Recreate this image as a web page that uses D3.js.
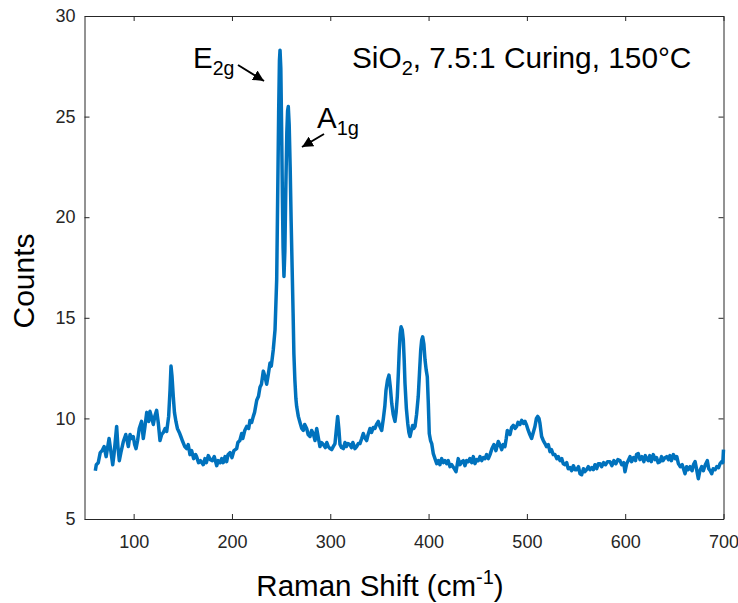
<!DOCTYPE html>
<html>
<head>
<meta charset="utf-8">
<script src="https://cdn.jsdelivr.net/npm/d3@7"></script>
<style>
  body { margin: 0; background: #fff; }
  text { font-family: "Liberation Sans", Arial, sans-serif; }
</style>
</head>
<body>
<div id="chart"></div>
<script>
// Raman shift (cm-1) and counts
const ramanShift = [
  61,62,64,66,68,70,72,74,75,77,78.7,80,82.7,84,85.4,87,89.5,92,94.6,96.3,98,99.6,101,102.4,104,105.7,108,109.8,111.5,113.3,
  115.3,116.6,118,120,121.5,123.4,125,126.8,128.5,130.2,132,133.6,135.6,137,138,139,140.3,141.5,143,144.5,146.4,148,149.9,152,153.9,155.5,157.3,159,161,163,
  164,166,168,170.8,172.5,174,175.9,178,180,182,184.5,186,188,189.6,191,193,194.6,196,198,200,202,204.8,206,208,209.9,211,213,215,217,218.3,
  220,221.7,223,225.2,227,228.5,230,231.9,233.5,235.3,237,238.7,240,242,243.8,245.5,246.5,247.5,248.3,248.9,249.7,250.5,251.3,252,252.9,253.8,254.8,255.8,256.6,257.3,
  258.2,259.2,260.2,261.2,262.2,263,264,265,265.8,267.5,269.2,271,272.6,274,276,277.5,279.4,281,282.7,284.5,286.2,288,289.5,291,292.9,295,296.5,298,299.8,301.4,
  303,304.8,306.3,307.5,308.7,309.9,311.5,313.3,315,316.5,318,320,321.5,323,325.1,326.8,328.5,330.2,332,333.6,335,337,338.5,340.4,342,343.8,345.5,347,348.9,350.5,
  352.3,354,355.5,356.7,358.2,359.7,361,362.5,364,365.8,367,368.2,369.3,370.2,371.1,372,373.2,374.3,375.2,376,377.4,378.8,380,381.1,382.5,383.8,385,386.2,387.8,389.5,
  390.8,392,393,394,395.2,396.4,397.6,398.7,399.7,400.7,402,403.2,404.8,406.5,408.3,410,411.5,413.3,415,416.7,418.4,420,421.8,423.5,425.5,427.9,430.2,432,433.7,435.3,
  437,438.7,440.4,442,443.8,445.5,447.2,449,450.6,452.3,454,455.7,457.4,459,460.8,462.5,464.5,466.5,468.5,470.9,472.5,474.4,476,477.7,479,480.1,481.5,482.8,484.5,486.2,
  488,489.6,491,493,494.7,496.5,498.1,499.8,501.4,503,504.8,506.5,508.2,509.7,511,512.3,513.3,515,516.7,518.4,520,521.8,523.5,525,526.8,528.6,530.5,532,533.7,535.5,
  537,538.8,540.5,542,543.9,545.5,547.3,549,550.7,552.5,554,555.7,557.5,559,560.8,562.5,564.2,566,567.6,569.3,571,572.7,574.4,576,578,580,582,584.5,586.5,588.5,
  590.5,592.5,594.7,596.5,598.5,599.8,601.5,603,604.9,606.5,608.5,610.5,611.5,613.3,615,617,619,620.5,621.9,623.5,625,626.5,628.6,630.5,632,633.5,635.4,637,638.5,640.5,
  642.2,644,645.5,647,649,651,652.5,654.1,656,658,660.9,662.5,664,666,668,669.5,671.1,672.5,674.4,676,677.8,679.5,681.5,683.5,685,686.5,688,689.5,691.5,693.1,
  695,696.5,698.2,699.3,700
];
const counts = [
  7.4,7.7,7.8,8.3,8.4,8.6,8.1,8.7,9.0,8.3,7.7,8.2,9.6,8.6,7.9,8.3,8.85,9.2,8.6,9.2,9.0,9.1,8.7,8.5,8.9,9.5,9.85,9.0,9.6,10.3,
  9.85,10.35,10.1,9.7,10.1,10.4,9.8,8.9,9.2,9.3,9.5,9.35,10.1,11.4,12.6,12.1,11.1,10.3,9.85,9.5,9.3,9.1,8.85,8.6,8.5,8.7,8.2,8.4,8.0,8.2,
  8.1,7.8,7.9,7.7,8.0,7.8,8.15,7.95,7.9,8.1,7.65,7.9,7.8,8.0,7.8,8.1,7.85,8.2,8.3,8.05,8.4,8.5,8.8,8.9,9.25,9.0,9.4,9.6,9.5,9.9,
  9.8,10.1,10.3,10.9,11.1,11.55,11.7,12.35,12.1,11.7,12.2,12.75,12.6,13.4,14.4,16.9,21.0,25.2,27.8,28.3,27.4,24.5,21.0,18.5,17.05,18.3,21.5,24.2,25.3,25.5,
  24.6,22.5,19.8,17.5,15.2,13.2,11.9,11.0,10.6,10.1,9.8,9.5,9.4,9.7,9.5,9.2,9.1,9.4,9.25,8.9,9.5,9.0,8.6,8.8,8.7,8.55,8.8,8.6,8.5,8.45,
  8.6,8.75,9.5,10.1,9.5,8.7,8.55,8.5,8.8,8.6,8.75,8.7,8.55,8.8,8.5,8.6,8.75,8.75,9.0,9.25,9.05,8.9,9.2,9.5,9.3,9.55,9.5,9.7,9.85,9.6,
  9.4,10.0,10.6,11.4,11.9,12.15,11.6,10.75,10.2,9.85,10.3,11.1,12.3,13.4,14.2,14.55,14.4,13.9,12.9,11.75,10.5,9.75,9.3,9.1,9.4,9.65,9.5,9.6,10.2,11.1,
  12.3,13.4,13.9,14.05,13.7,12.9,12.4,12.07,10.8,9.25,8.9,8.75,8.25,8.0,7.75,7.9,7.7,8.0,7.8,7.9,7.75,7.9,7.6,7.7,7.55,7.35,8.0,7.7,7.85,7.9,
  7.65,7.9,7.85,8.0,7.8,8.1,7.75,7.95,7.9,8.1,7.9,8.05,8.0,8.2,8.0,8.2,8.5,8.7,8.4,8.85,8.7,8.45,8.7,8.6,9.0,9.4,9.3,9.2,9.55,9.65,
  9.5,9.6,9.8,9.7,9.9,9.75,9.85,9.65,9.4,9.2,9.0,9.3,9.6,10.0,10.1,10.0,9.75,9.1,8.9,8.75,8.6,8.7,8.35,8.45,8.2,8.2,8.0,8.1,7.9,8.0,
  7.75,7.7,7.8,7.5,7.55,7.4,7.65,7.45,7.45,7.6,7.25,7.2,7.5,7.35,7.45,7.6,7.45,7.55,7.45,7.7,7.5,7.75,7.75,7.6,7.8,7.7,7.85,7.85,7.65,7.9,
  7.75,7.95,7.9,7.7,7.8,7.35,7.75,7.9,8.1,7.85,8.05,7.9,8.2,8.25,7.95,8.1,7.85,8.15,8.0,7.9,8.15,7.85,8.2,7.95,8.05,7.8,7.85,8.1,7.9,8.05,
  8.1,7.95,8.15,7.9,8.2,8.0,8.1,7.75,7.6,7.7,7.25,7.6,7.45,7.6,7.4,7.7,7.85,7.5,7.0,7.4,7.6,7.4,7.7,7.9,7.5,7.4,7.25,7.5,7.45,7.6,
  7.55,7.75,7.85,7.8,8.45
];
const xTicks = [100, 200, 300, 400, 500, 600, 700];
const yTicks = [5, 10, 15, 20, 25, 30];

const width = 738;
const height = 603;
const margin = {top: 16, right: 14.5, bottom: 84, left: 84.5};
const axisColor = "#262626";

const svg = d3.select("#chart")
  .append("svg")
  .attr("width", width)
  .attr("height", height);

const x = d3.scaleLinear().domain([50, 700]).range([margin.left, width - margin.right]);
const y = d3.scaleLinear().domain([5, 30]).range([height - margin.bottom, margin.top]);

// axes, ticks pointing inward like matlab
function styleAxis(g) {
  g.select(".domain").attr("stroke", axisColor).attr("stroke-width", 1);
  g.selectAll(".tick line").attr("stroke", axisColor);
  g.selectAll(".tick text")
    .attr("fill", axisColor)
    .attr("font-size", 18)
    .attr("font-family", "'Liberation Sans', Arial, sans-serif");
}

svg.append("g")
  .attr("transform", "translate(0," + y(5) + ")")
  .call(d3.axisBottom(x).tickValues(xTicks).tickSize(-5).tickPadding(16).tickSizeOuter(0))
  .call(styleAxis);

svg.append("g")
  .attr("transform", "translate(" + x(50) + ",0)")
  .call(d3.axisLeft(y).tickValues(yTicks).tickSize(-5).tickPadding(9).tickSizeOuter(0))
  .call(styleAxis);

svg.append("g")
  .attr("transform", "translate(0," + y(30) + ")")
  .call(d3.axisTop(x).tickValues(xTicks).tickSize(-5).tickFormat("").tickSizeOuter(0))
  .call(styleAxis);

svg.append("g")
  .attr("transform", "translate(" + x(700) + ",0)")
  .call(d3.axisRight(y).tickValues(yTicks).tickSize(-5).tickFormat("").tickSizeOuter(0))
  .call(styleAxis);

// spectrum
const line = d3.line()
  .x((d, i) => x(ramanShift[i]))
  .y(d => y(d));

svg.append("path")
  .datum(counts)
  .attr("fill", "none")
  .attr("stroke", "#0072BD")
  .attr("stroke-width", 3.5)
  .attr("stroke-linejoin", "round")
  .attr("d", line);

// axis labels
const xLabel = svg.append("text")
  .attr("x", 380)
  .attr("y", 596)
  .attr("text-anchor", "middle")
  .attr("font-size", 29.5)
  .text("Raman Shift (cm");
xLabel.append("tspan").attr("font-size", 20).attr("dy", -12).text("-1");
xLabel.append("tspan").attr("dy", 12).text(")");

svg.append("text")
  .attr("transform", "translate(34,281) rotate(-90)")
  .attr("text-anchor", "middle")
  .attr("font-size", 30)
  .text("Counts");

// annotations
const title = svg.append("text")
  .attr("x", 352)
  .attr("y", 68)
  .attr("font-size", 29.8)
  .text("SiO");
title.append("tspan").attr("font-size", 20).attr("dy", 7).text("2");
title.append("tspan").attr("dy", -7).text(", 7.5:1 Curing, 150°C");

const e2g = svg.append("text")
  .attr("x", 193)
  .attr("y", 68)
  .attr("font-size", 29.5)
  .text("E");
e2g.append("tspan").attr("font-size", 19.5).attr("dy", 7).text("2g");

const a1g = svg.append("text")
  .attr("x", 317)
  .attr("y", 128)
  .attr("font-size", 29.5)
  .text("A");
a1g.append("tspan").attr("font-size", 20).attr("dy", 7).text("1g");

svg.append("defs").append("marker")
  .attr("id", "head")
  .attr("viewBox", "0 0 10 10")
  .attr("refX", 10)
  .attr("refY", 5)
  .attr("markerWidth", 5.5)
  .attr("markerHeight", 5.5)
  .attr("markerUnits", "strokeWidth")
  .attr("orient", "auto")
  .append("path")
  .attr("d", "M0,0L10,5L0,10Z")
  .attr("fill", "#000");

svg.append("line")
  .attr("x1", 238).attr("y1", 65).attr("x2", 264).attr("y2", 81)
  .attr("stroke", "#000").attr("stroke-width", 2)
  .attr("marker-end", "url(#head)");

svg.append("line")
  .attr("x1", 324).attr("y1", 134).attr("x2", 302).attr("y2", 147)
  .attr("stroke", "#000").attr("stroke-width", 2)
  .attr("marker-end", "url(#head)");
</script>
</body>
</html>
